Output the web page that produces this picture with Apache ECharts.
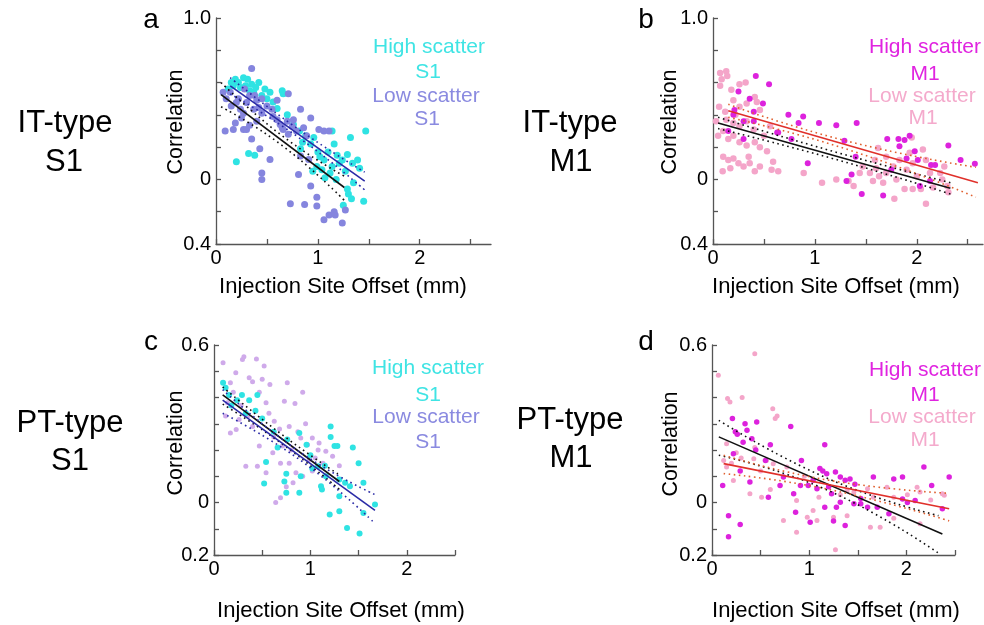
<!DOCTYPE html>
<html><head><meta charset="utf-8">
<script src="https://cdn.jsdelivr.net/npm/echarts@6/dist/echarts.min.js"></script>
<style>html,body{margin:0;padding:0;background:#fff}#c{width:984px;height:625px}</style>
</head><body><div id="c"></div><script>
// ---------- Data ----------
var aHigh = [[0.12,0.56],[0.15,0.60],[0.17,0.58],[0.19,0.62],[0.22,0.60],[0.24,0.57],[0.27,0.63],[0.29,0.58],[0.31,0.62],[0.33,0.55],[0.35,0.59],[0.37,0.54],[0.39,0.57],[0.42,0.60],[0.45,0.52],[0.48,0.56],[0.50,0.50],[0.53,0.54],[0.56,0.48],[0.65,0.55],[0.66,0.53],[0.20,0.11],[0.32,0.16],[0.38,0.15],[0.60,0.44],[0.70,0.40],[0.76,0.34],[0.82,0.30],[0.83,0.19],[0.85,0.23],[0.88,0.27],[0.93,0.22],[0.96,0.26],[0.99,0.08],[1.00,0.17],[1.02,0.14],[1.04,0.06],[1.06,0.12],[1.07,0.01],[1.10,0.17],[1.12,0.04],[1.14,0.30],[1.14,0.08],[1.16,0.22],[1.19,0.15],[1.21,0.10],[1.24,0.12],[1.25,-0.16],[1.27,0.05],[1.29,0.155],[1.29,-0.06],[1.30,-0.09],[1.32,0.26],[1.33,-0.12],[1.34,0.10],[1.35,-0.02],[1.39,0.12],[1.41,0.07],[1.45,-0.135],[1.47,0.30],[0.95,0.05],[1.18,0.00]];
var aLow = [[0.07,0.54],[0.14,0.54],[0.09,0.30],[0.17,0.31],[0.27,0.31],[0.30,0.31],[0.33,0.335],[0.19,0.35],[0.24,0.435],[0.27,0.41],[0.37,0.435],[0.42,0.445],[0.45,0.41],[0.50,0.455],[0.55,0.435],[0.60,0.37],[0.65,0.32],[0.66,0.31],[0.35,0.25],[0.43,0.19],[0.53,0.124],[0.45,0.04],[0.45,0.0],[0.35,0.687],[0.71,0.53],[0.83,0.435],[0.93,0.38],[0.75,0.33],[0.79,0.30],[0.86,0.32],[1.01,0.31],[1.06,0.30],[1.11,0.30],[0.81,0.03],[0.93,-0.04],[0.73,-0.15],[0.87,-0.155],[0.99,-0.11],[0.99,-0.165],[1.11,-0.22],[1.16,-0.20],[1.17,-0.22],[1.06,-0.25],[1.24,-0.27],[1.27,-0.19],[0.30,0.476],[0.40,0.49],[0.33,0.52],[0.20,0.476],[0.15,0.455],[0.45,0.50],[0.56,0.39],[0.63,0.34],[0.70,0.36],[0.76,0.37],[0.71,0.28],[0.89,0.27],[0.83,0.145],[0.91,0.124],[0.22,0.50],[0.28,0.56],[0.38,0.52],[0.10,0.50],[0.25,0.38],[0.40,0.36],[0.60,0.49]];
var bHigh = [[0.42,0.64],[0.55,0.59],[0.25,0.545],[0.21,0.43],[0.40,0.42],[0.49,0.47],[0.30,0.36],[0.40,0.36],[0.63,0.29],[0.74,0.40],[0.84,0.35],[0.885,0.39],[0.77,0.25],[1.04,0.35],[1.21,0.335],[1.41,0.35],[1.29,0.24],[0.93,0.10],[1.31,-0.01],[1.40,0.14],[1.46,-0.09],[1.67,-0.10],[1.71,0.25],[1.82,0.25],[1.88,0.245],[1.83,0.205],[1.93,0.27],[1.90,0.13],[1.98,0.175],[2.01,0.12],[2.14,0.09],[2.18,0.09],[2.31,0.21],[2.43,0.12],[2.57,0.097],[1.75,0.06],[2.13,-0.01],[2.03,-0.04],[0.30,0.25],[0.15,0.30],[0.20,0.40],[0.36,0.50],[0.64,0.29],[1.36,0.03]];
var bLow = [[0.07,0.66],[0.13,0.67],[0.085,0.62],[0.14,0.64],[0.07,0.58],[0.18,0.555],[0.26,0.59],[0.32,0.60],[0.20,0.49],[0.26,0.45],[0.33,0.47],[0.43,0.48],[0.41,0.51],[0.46,0.43],[0.05,0.27],[0.10,0.30],[0.15,0.25],[0.20,0.27],[0.10,0.14],[0.15,0.12],[0.20,0.13],[0.25,0.10],[0.30,0.08],[0.095,0.05],[0.17,0.07],[0.36,0.10],[0.41,0.05],[0.46,0.08],[0.53,0.175],[0.575,0.06],[0.64,0.05],[0.59,0.11],[0.13,0.37],[0.20,0.35],[0.26,0.33],[0.33,0.36],[0.40,0.31],[0.50,0.27],[0.56,0.33],[0.26,0.23],[0.33,0.21],[0.41,0.23],[0.46,0.20],[0.35,0.14],[0.89,0.04],[1.07,-0.02],[1.21,0.0],[1.33,-0.01],[1.38,-0.04],[1.44,0.04],[1.47,0.08],[1.54,0.04],[1.57,-0.01],[1.60,0.07],[1.63,0.02],[1.67,-0.02],[1.70,0.04],[1.59,0.12],[1.62,0.195],[1.70,0.14],[1.77,0.08],[1.80,0.00],[1.83,0.12],[1.90,0.06],[1.93,0.165],[1.96,0.10],[2.00,0.02],[2.06,0.185],[1.95,0.26],[2.09,0.12],[2.13,0.04],[2.16,-0.05],[2.09,-0.15],[1.78,-0.12],[1.88,-0.06],[1.96,-0.06],[2.04,-0.06],[2.27,0.08],[2.31,-0.08],[2.30,-0.04],[2.25,0.00],[2.23,0.04],[0.03,0.36],[0.06,0.45],[0.12,0.42],[0.22,0.40]];
var cHigh = [[0.094,0.456],[0.12,0.437],[0.156,0.41],[0.24,0.39],[0.29,0.41],[0.365,0.39],[0.43,0.35],[0.45,0.41],[0.50,0.32],[0.54,0.154],[0.52,0.072],[0.66,0.21],[0.75,0.037],[0.73,0.08],[0.75,0.11],[0.76,0.24],[0.885,0.265],[0.90,0.10],[0.885,0.037],[1.00,0.18],[1.02,0.13],[1.11,0.062],[1.16,0.10],[1.21,0.29],[1.21,0.25],[1.25,0.215],[1.28,0.215],[1.30,0.088],[1.30,0.024],[1.20,-0.046],[1.30,-0.033],[1.38,-0.097],[1.44,0.21],[1.50,0.15],[1.51,-0.118],[1.55,0.075],[1.55,-0.04],[1.67,-0.008],[1.41,0.062],[1.36,0.075],[1.15,0.14],[1.08,0.138],[0.96,0.22],[0.18,0.37],[0.33,0.34],[0.62,0.27],[1.12,0.05]];
var cLow = [[0.094,0.532],[0.295,0.545],[0.31,0.555],[0.44,0.547],[0.226,0.494],[0.17,0.456],[0.365,0.475],[0.40,0.46],[0.52,0.52],[0.50,0.47],[0.47,0.42],[0.54,0.38],[0.76,0.456],[0.84,0.377],[0.92,0.42],[0.73,0.386],[0.57,0.34],[0.625,0.31],[0.68,0.28],[0.78,0.29],[0.87,0.27],[0.90,0.246],[0.97,0.22],[1.02,0.246],[1.09,0.227],[1.08,0.20],[1.16,0.195],[1.23,0.176],[1.30,0.14],[1.13,0.15],[0.99,0.164],[1.02,0.12],[0.92,0.10],[0.82,0.075],[0.75,0.06],[0.64,0.0],[0.69,0.018],[0.54,0.113],[0.45,0.138],[0.33,0.138],[0.17,0.265],[0.23,0.278],[0.12,0.33],[0.26,0.316],[0.40,0.29],[0.47,0.215],[0.71,0.215],[0.78,0.15],[0.85,0.113],[0.61,0.19],[0.69,0.15],[0.20,0.42],[0.28,0.37],[0.35,0.33],[0.62,0.25],[0.95,0.30],[1.05,0.17],[0.80,0.20],[0.58,0.45],[0.14,0.38]];
var dHigh = [[0.21,0.32],[0.34,0.30],[0.36,0.275],[0.46,0.307],[0.41,0.243],[0.32,0.23],[0.24,0.27],[0.26,0.26],[0.81,0.29],[1.16,0.22],[0.22,0.186],[0.29,0.12],[0.39,0.078],[0.11,0.065],[0.17,-0.05],[0.17,-0.13],[0.29,-0.084],[0.58,0.02],[0.55,0.16],[0.735,0.097],[0.92,0.16],[0.86,-0.037],[1.01,-0.075],[1.11,0.13],[1.14,0.12],[1.18,0.11],[1.27,0.116],[1.32,0.097],[1.37,0.085],[1.42,0.09],[1.23,0.033],[1.16,-0.018],[1.28,-0.018],[1.32,0.001],[1.37,-0.088],[1.46,-0.005],[1.53,-0.005],[1.53,0.015],[1.60,-0.018],[1.66,0.097],[1.70,-0.018],[1.82,-0.043],[1.87,0.09],[1.96,0.097],[2.01,0.0],[1.96,0.013],[2.09,0.008],[2.18,0.135],[2.26,0.065],[2.44,0.097],[2.37,-0.024],[1.08,0.052],[0.99,0.065],[0.91,0.065],[0.84,0.033],[0.70,0.065],[1.20,0.06],[1.04,0.085],[1.47,0.07],[0.45,0.20],[0.60,0.22],[1.25,-0.07]];
var dLow = [[0.065,0.485],[0.44,0.567],[0.16,0.396],[0.185,0.383],[0.31,0.40],[0.625,0.357],[0.67,0.33],[0.65,0.32],[0.15,0.224],[0.25,0.19],[0.43,0.167],[0.44,0.21],[0.56,0.16],[0.63,0.148],[0.39,0.033],[0.51,0.02],[0.22,0.084],[0.735,-0.069],[0.87,-0.113],[1.04,-0.03],[1.08,-0.069],[0.98,-0.056],[1.25,-0.056],[1.27,-0.18],[1.39,-0.05],[1.63,-0.094],[1.73,-0.094],[1.87,-0.06],[2.14,-0.081],[0.87,0.008],[1.32,0.03],[1.46,0.04],[1.60,0.052],[1.80,0.058],[2.11,0.058],[2.14,0.04],[2.37,0.033],[2.39,0.028],[0.15,0.135],[0.12,0.16],[0.77,0.135],[1.66,0.02],[1.87,0.02],[2.01,0.03],[1.39,0.045],[0.30,0.17],[0.50,0.12],[0.95,0.10],[1.10,0.02],[0.60,0.05],[0.20,0.15],[2.25,0.01]];

// regression fits and confidence bounds
var aFitBlack = [[0.05,0.525],[1.26,-0.05]];
var aCIBlackUp = [[0.05,0.60],[0.65,0.27],[1.26,0.02]];
var aCIBlackLo = [[0.05,0.45],[0.65,0.21],[1.26,-0.13]];
var aFitBlue = [[0.14,0.58],[1.46,-0.01]];
var aCIBlueUp = [[0.14,0.63],[0.80,0.315],[1.46,0.045]];
var aCIBlueLo = [[0.14,0.53],[0.80,0.265],[1.46,-0.065]];
var bFitBlack = [[0.05,0.35],[2.33,-0.055]];
var bCIBlackUp = [[0.05,0.385],[1.2,0.17],[2.33,-0.02]];
var bCIBlackLo = [[0.05,0.315],[1.2,0.125],[2.33,-0.09]];
var bFitRed = [[0.15,0.425],[2.6,-0.02]];
var bCIRedUp = [[0.15,0.465],[1.3,0.24],[2.58,0.075]];
var bCIRedLo = [[0.15,0.385],[1.3,0.19],[2.58,-0.11]];
var cFitBlack = [[0.09,0.41],[1.3,0.08]];
var cCIBlackUp = [[0.09,0.44],[0.7,0.26],[1.3,0.105]];
var cCIBlackLo = [[0.09,0.375],[0.7,0.225],[1.3,0.05]];
var cFitBlue = [[0.09,0.39],[1.67,-0.03]];
var cCIBlueUp = [[0.09,0.43],[0.9,0.19],[1.67,0.03]];
var cCIBlueLo = [[0.09,0.34],[0.9,0.16],[1.67,-0.08]];
var dFitBlack = [[0.07,0.25],[2.37,-0.12]];
var dCIBlackUp = [[0.07,0.313],[1.2,0.09],[2.33,-0.05]];
var dCIBlackLo = [[0.07,0.18],[1.2,0.045],[2.33,-0.193]];
var dFitRed = [[0.12,0.148],[2.44,-0.024]];
var dCIRedUp = [[0.12,0.18],[1.2,0.085],[2.44,0.035]];
var dCIRedLo = [[0.12,0.11],[1.2,0.05],[2.44,-0.07]];

// axis ticks / labels
var xTickValues = [0, 0.5, 1, 1.5, 2, 2.5];
var xLabelValues = [0, 1, 2];
var xLabelTexts = ['0', '1', '2'];
var yTopTickValues = [-0.4,-0.2,0,0.2,0.4,0.6,0.8,1.0];
var yTopLabelValues = [-0.4, 0, 1.0];
var yTopLabelTexts = ['0.4', '0', '1.0'];
var yBotTickValues = [-0.2,-0.1,0,0.1,0.2,0.3,0.4,0.5,0.6];
var yBotLabelValues = [-0.2, 0, 0.6];
var yBotLabelTexts = ['0.2', '0', '0.6'];

// ---------- Chart ----------
var FONT = 'Liberation Sans, Arial, sans-serif';
var chart = echarts.init(document.getElementById('c'), null, {renderer:'canvas'});
var grids = [
  {left:216, top:18, width:275, height:226},
  {left:713, top:18, width:270, height:226},
  {left:214, top:345, width:241, height:210},
  {left:712, top:345, width:243, height:210}
];
var xMax = [2.7, 2.65, 2.5, 2.5];
function lab(vals, texts){ return function(v){ for (var i=0;i<vals.length;i++){ if (Math.abs(v-vals[i])<1e-6) return texts[i]; } return ''; }; }
var axisColor = '#555';
var xAxes = grids.map(function(g,i){ return {
  gridIndex:i, type:'value', min:0, max:xMax[i], interval:0.5,
  axisLine:{show:true, onZero:false, lineStyle:{color:axisColor, width:1.3}},
  axisTick:{show:true, inside:true, length:5, customValues:xTickValues, lineStyle:{color:axisColor, width:1.3}},
  axisLabel:{customValues:xLabelValues, formatter:lab(xLabelValues,xLabelTexts), fontSize:20, color:'#000', margin:4, fontFamily:FONT},
  splitLine:{show:false}
};});
var yAxes = grids.map(function(g,i){ var top = i<2; return {
  gridIndex:i, type:'value', min: top?-0.4:-0.2, max: top?1.0:0.6, interval: top?0.2:0.1,
  axisLine:{show:true, onZero:false, lineStyle:{color:axisColor, width:1.3}},
  axisTick:{show:true, inside:true, length:5, customValues: top?yTopTickValues:yBotTickValues, lineStyle:{color:axisColor, width:1.3}},
  axisLabel:{customValues: top?yTopLabelValues:yBotLabelValues, formatter: top?lab(yTopLabelValues,yTopLabelTexts):lab(yBotLabelValues,yBotLabelTexts), fontSize:20, color:'#000', margin:5, fontFamily:FONT},
  splitLine:{show:false}
};});

var series = [];
function scatter(i, data, color, size){ series.push({type:'scatter', xAxisIndex:i, yAxisIndex:i, data:data, symbolSize:size, itemStyle:{color:color, opacity:1}, silent:true, z:2}); }
function line(i, data, color, dotted){ series.push({type:'line', xAxisIndex:i, yAxisIndex:i, data:data, symbol:'none', smooth: dotted?0.5:false, silent:true, z:3,
  lineStyle:{color:color, width:1.6, type: dotted?[1.6,3.5]:'solid'}}); }

var CYAN = '#2fe3e3', PURPLE = '#8585de', LAV = '#cfaaea', MAG = '#dd22dd', PINK = '#f4a5c9';
var BLUE = '#2a2aa6', BLACK = '#111111', RED = '#e0302a';

scatter(0, aHigh, CYAN, 7); scatter(0, aLow, PURPLE, 7);
line(0, aFitBlack, BLACK); line(0, aCIBlackUp, BLACK, true); line(0, aCIBlackLo, BLACK, true);
line(0, aFitBlue, BLUE); line(0, aCIBlueUp, BLUE, true); line(0, aCIBlueLo, BLUE, true);

scatter(1, bLow, PINK, 6.5); scatter(1, bHigh, MAG, 6);
line(1, bFitBlack, BLACK); line(1, bCIBlackUp, BLACK, true); line(1, bCIBlackLo, BLACK, true);
line(1, bFitRed, RED); line(1, bCIRedUp, '#e06030', true); line(1, bCIRedLo, '#e06030', true);

scatter(2, cLow, LAV, 5); scatter(2, cHigh, CYAN, 6);
line(2, cFitBlack, BLACK); line(2, cCIBlackUp, BLACK, true); line(2, cCIBlackLo, BLACK, true);
line(2, cFitBlue, BLUE); line(2, cCIBlueUp, BLUE, true); line(2, cCIBlueLo, BLUE, true);

scatter(3, dLow, PINK, 5); scatter(3, dHigh, MAG, 5.5);
line(3, dFitBlack, BLACK); line(3, dCIBlackUp, BLACK, true); line(3, dCIBlackLo, BLACK, true);
line(3, dFitRed, RED); line(3, dCIRedUp, '#e06030', true); line(3, dCIRedLo, '#e06030', true);

function txt(x, y, s, size, color, rot){
  return {type:'text', x:x, y:y, rotation: rot||0, silent:true, z:10,
    style:{x:0, y:0, text:s, fill:color||'#000', fontSize:size, fontFamily:FONT,
      align:'center', verticalAlign:'middle', textAlign:'center', textVerticalAlign:'middle'}};
}
var graphics = [
  txt(151,20,'a',28), txt(646,20,'b',28), txt(151,342,'c',28), txt(646,342,'d',28),
  txt(65,123,'IT-type',31), txt(64,162,'S1',31),
  txt(570,123,'IT-type',31), txt(571,162,'M1',31),
  txt(70,423,'PT-type',31), txt(70,461,'S1',31),
  txt(570,420,'PT-type',31), txt(571,458,'M1',31),
  txt(176,122,'Correlation',21.5,'#000',Math.PI/2), txt(670,122,'Correlation',21.5,'#000',Math.PI/2),
  txt(176,443,'Correlation',21.5,'#000',Math.PI/2), txt(671,444,'Correlation',21.5,'#000',Math.PI/2),
  txt(343,287,'Injection Site Offset (mm)',22), txt(836,287,'Injection Site Offset (mm)',22),
  txt(341,611,'Injection Site Offset (mm)',22), txt(836,611,'Injection Site Offset (mm)',22),
  txt(429,47,'High scatter',21,'#3fe4e4'), txt(428,72,'S1',21,'#3fe4e4'),
  txt(426,96,'Low scatter',21,'#8a8ae0'), txt(427,119,'S1',21,'#8a8ae0'),
  txt(925,47,'High scatter',21,'#e024e0'), txt(925,74,'M1',21,'#e024e0'),
  txt(922,96,'Low scatter',21,'#f4aacc'), txt(923,118,'M1',21,'#f4aacc'),
  txt(428,368,'High scatter',21,'#3fe4e4'), txt(428,395,'S1',21,'#3fe4e4'),
  txt(426,417,'Low scatter',21,'#8a8ae0'), txt(428,442,'S1',21,'#8a8ae0'),
  txt(925,370,'High scatter',21,'#e024e0'), txt(925,395,'M1',21,'#e024e0'),
  txt(922,417,'Low scatter',21,'#f4aacc'), txt(925,440,'M1',21,'#f4aacc')
];

chart.setOption({
  animation:false, backgroundColor:'#fff',
  grid:grids, xAxis:xAxes, yAxis:yAxes, series:series, graphic:graphics
});
</script></body></html>
